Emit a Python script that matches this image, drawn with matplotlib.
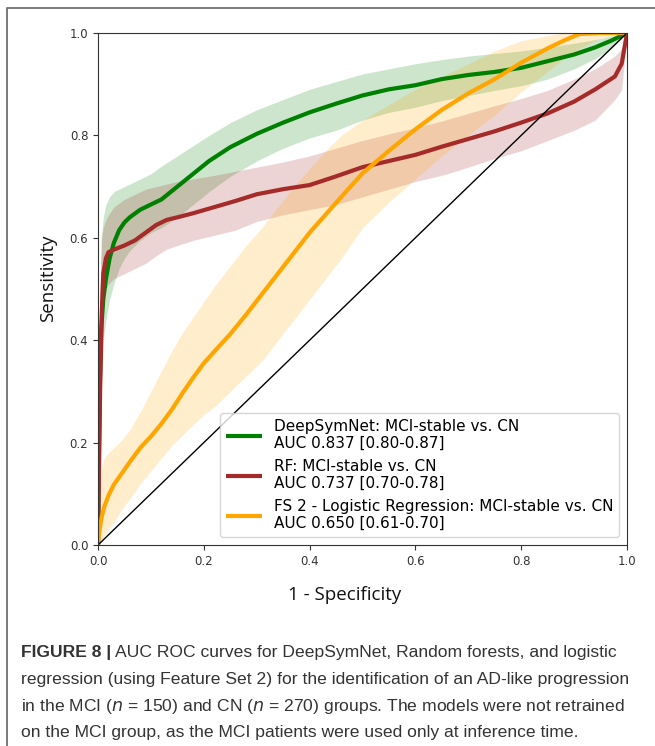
import numpy as np
import matplotlib.pyplot as plt
from matplotlib.lines import Line2D

# DeepSymNet
g_x = [0, 0.003, 0.006, 0.01, 0.015, 0.022, 0.03, 0.04, 0.05, 0.06, 0.08, 0.10, 0.12, 0.15, 0.18, 0.21,
       0.25, 0.30, 0.35, 0.40, 0.45, 0.50, 0.55, 0.60, 0.65, 0.70, 0.75, 0.80, 0.85, 0.90, 0.94, 0.97, 1.0]
g_y = [0, 0.30, 0.42, 0.48, 0.52, 0.56, 0.59, 0.615, 0.63, 0.64, 0.655, 0.665, 0.675, 0.70, 0.725, 0.75,
       0.777, 0.803, 0.825, 0.845, 0.862, 0.878, 0.890, 0.898, 0.910, 0.918, 0.924, 0.932, 0.945, 0.958, 0.972, 0.985, 1.0]
g_hi = [0, 0.45, 0.60, 0.64, 0.665, 0.68, 0.69, 0.695, 0.70, 0.705, 0.715, 0.725, 0.74, 0.76, 0.78, 0.80,
        0.825, 0.85, 0.87, 0.89, 0.905, 0.92, 0.93, 0.94, 0.948, 0.955, 0.96, 0.965, 0.972, 0.98, 0.987, 0.994, 1.0]
g_lo = [0, 0.15, 0.30, 0.40, 0.44, 0.48, 0.51, 0.54, 0.56, 0.575, 0.595, 0.61, 0.62, 0.64, 0.665, 0.69,
        0.72, 0.75, 0.775, 0.795, 0.81, 0.83, 0.845, 0.855, 0.868, 0.878, 0.888, 0.897, 0.91, 0.93, 0.95, 0.97, 1.0]

# RF
r_x = [0, 0.004, 0.007, 0.01, 0.015, 0.02, 0.03, 0.05, 0.07, 0.09, 0.11, 0.13, 0.15, 0.18, 0.22, 0.26,
       0.30, 0.35, 0.40, 0.45, 0.50, 0.55, 0.60, 0.65, 0.70, 0.75, 0.80, 0.85, 0.90, 0.94, 0.977, 0.99, 1.0]
r_y = [0, 0.30, 0.45, 0.53, 0.56, 0.572, 0.577, 0.585, 0.595, 0.61, 0.625, 0.635, 0.64, 0.648, 0.66, 0.672,
       0.685, 0.695, 0.703, 0.72, 0.738, 0.75, 0.762, 0.778, 0.793, 0.808, 0.825, 0.843, 0.866, 0.89, 0.915, 0.94, 1.0]
r_hi = [0, 0.50, 0.60, 0.62, 0.635, 0.645, 0.66, 0.675, 0.685, 0.695, 0.70, 0.705, 0.71, 0.715, 0.722, 0.73,
        0.738, 0.748, 0.76, 0.775, 0.79, 0.803, 0.815, 0.828, 0.843, 0.858, 0.872, 0.888, 0.91, 0.93, 0.955, 0.97, 1.0]
r_lo = [0, 0.15, 0.38, 0.47, 0.50, 0.51, 0.52, 0.53, 0.54, 0.55, 0.565, 0.578, 0.585, 0.595, 0.605, 0.615,
        0.632, 0.645, 0.655, 0.665, 0.68, 0.695, 0.71, 0.722, 0.738, 0.755, 0.77, 0.79, 0.81, 0.83, 0.87, 0.89, 1.0]

# FS 2 - Logistic Regression
o_x = [0, 0.003, 0.007, 0.012, 0.02, 0.03, 0.045, 0.06, 0.08, 0.10, 0.12, 0.14, 0.16, 0.18, 0.20, 0.22,
       0.25, 0.28, 0.31, 0.34, 0.37, 0.40, 0.43, 0.46, 0.50, 0.55, 0.60, 0.65, 0.70, 0.75, 0.80, 0.85, 0.88, 0.91, 0.95, 1.0]
o_y = [0, 0.03, 0.055, 0.075, 0.097, 0.118, 0.14, 0.162, 0.19, 0.212, 0.237, 0.265, 0.297, 0.327, 0.355, 0.378,
       0.412, 0.45, 0.49, 0.53, 0.57, 0.61, 0.645, 0.68, 0.726, 0.77, 0.812, 0.85, 0.882, 0.91, 0.942, 0.97, 0.985, 0.998, 1.0, 1.0]
o_hi = [0, 0.10, 0.15, 0.17, 0.18, 0.19, 0.205, 0.225, 0.26, 0.30, 0.34, 0.38, 0.415, 0.445, 0.475, 0.505,
        0.545, 0.585, 0.62, 0.66, 0.70, 0.735, 0.77, 0.80, 0.83, 0.86, 0.89, 0.915, 0.94, 0.965, 0.985, 0.995, 1.0, 1.0, 1.0, 1.0]
o_lo = [0, 0.0, 0.01, 0.02, 0.03, 0.045, 0.07, 0.09, 0.12, 0.145, 0.17, 0.195, 0.215, 0.235, 0.255, 0.27,
        0.30, 0.33, 0.36, 0.40, 0.44, 0.48, 0.52, 0.56, 0.62, 0.67, 0.715, 0.76, 0.80, 0.84, 0.885, 0.925, 0.95, 0.97, 0.99, 1.0]

labels = ['DeepSymNet: MCI-stable vs. CN\nAUC 0.837 [0.80-0.87]',
          'RF: MCI-stable vs. CN\nAUC 0.737 [0.70-0.78]',
          'FS 2 - Logistic Regression: MCI-stable vs. CN\nAUC 0.650 [0.61-0.70]']
colors = ['green', '#a52a2a', 'orange']

caption = ['regression (using Feature Set 2) for the identification of an AD-like progression',
           'on the MCI group, as the MCI patients were used only at inference time.']

W, H = 655, 746
fig = plt.figure(figsize=(W / 100, H / 100), dpi=100)
ax = fig.add_axes([98 / W, 1 - 545 / H, 529 / W, 512 / H])

# outer frame of the figure panel
fig.add_artist(Line2D([7 / W, 7 / W, 1.0], [0, 1 - 8 / H, 1 - 8 / H], transform=fig.transFigure,
                      color='#6f6f6f', lw=1.3))

for (x, y, lo, hi), c in zip([(g_x, g_y, g_lo, g_hi), (r_x, r_y, r_lo, r_hi), (o_x, o_y, o_lo, o_hi)], colors):
    ax.fill_between(x, lo, hi, color=c, alpha=0.2, lw=0)
handles = []
for (x, y), c, lab in zip([(g_x, g_y), (r_x, r_y), (o_x, o_y)], colors, labels):
    h, = ax.plot(x, y, color=c, lw=3, label=lab, solid_capstyle='butt')
    handles.append(h)
ax.plot([0, 1], [0, 1], color='black', lw=1)

ax.set_xlim(0, 1)
ax.set_ylim(0, 1)
ax.set_xticks(np.arange(0, 1.01, 0.2))
ax.set_yticks(np.arange(0, 1.01, 0.2))
ax.tick_params(labelsize=8.5, labelcolor='#333333', color='#333333')
for s in ax.spines.values():
    s.set_color('#333333')

ax.legend(handles=handles, loc='lower right', fontsize=11, handlelength=2.3, framealpha=0.8,
          borderaxespad=0.5, labelspacing=0.5)

fig.text(48 / W, 1 - 278 / H, 'Sensitivity', rotation=90, ha='center', va='center',
         family='Open Sans', fontsize=13.5, color='#111111')
fig.text(345 / W, 1 - 595 / H, '1 - Specificity', ha='center', va='center',
         family='Open Sans', fontsize=13.5, color='#111111')

# caption
cap_font = dict(family='Liberation Sans', fontsize=12.6, color='#333333', va='baseline')
fig.canvas.draw()
r = fig.canvas.get_renderer()
t = fig.text(21 / W, 1 - 657 / H, 'FIGURE 8 |', fontweight='bold', **cap_font)
bb = t.get_window_extent(renderer=r)
fig.text(bb.x1 / W + 4 / W, 1 - 657 / H, 'AUC ROC curves for DeepSymNet, Random forests, and logistic', **cap_font)
fig.text(21 / W, 1 - 684 / H, caption[0], **cap_font)
fig.text(21 / W, 1 - 711 / H, 'in the MCI ($\\it{n}$ = 150) and CN ($\\it{n}$ = 270) groups. The models were not retrained',
         **cap_font)
fig.text(21 / W, 1 - 737 / H, caption[1], **cap_font)

fig.savefig('out.png', dpi=100)
